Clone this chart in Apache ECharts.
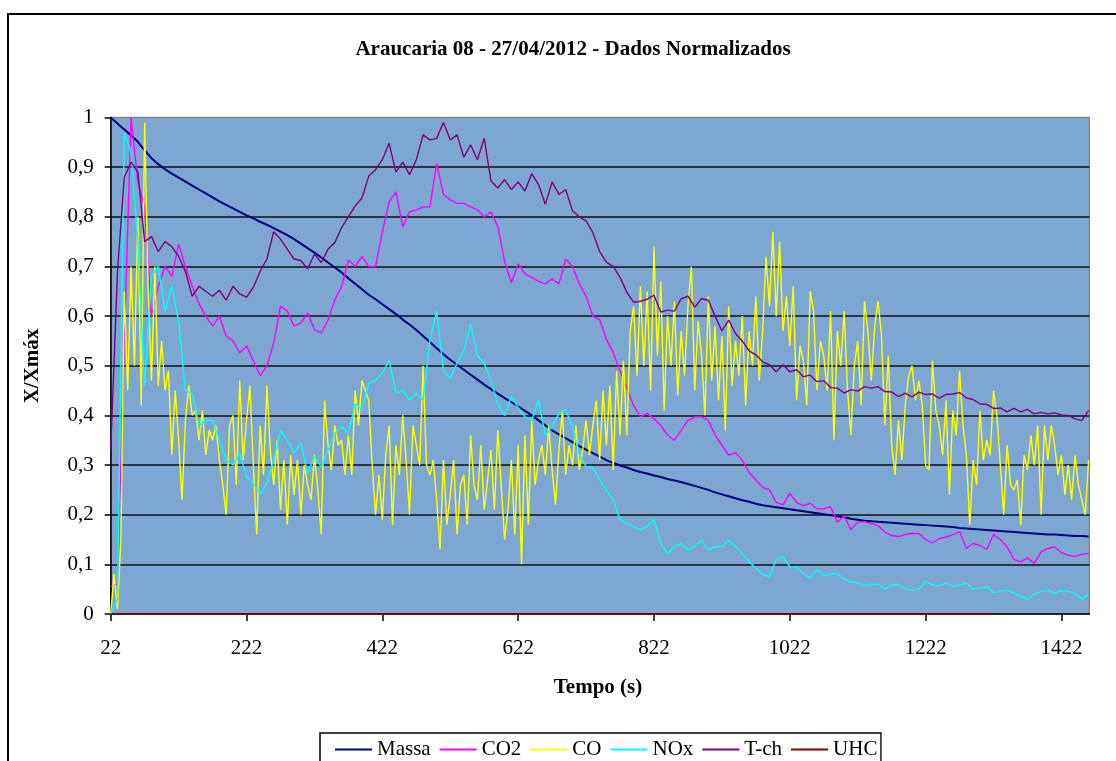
<!DOCTYPE html>
<html><head><meta charset="utf-8">
<script src="https://cdn.jsdelivr.net/npm/echarts@6/dist/echarts.min.js"></script>
<style>html,body{margin:0;padding:0;background:#fff}#chart{width:1116px;height:761px}</style>
</head><body><div id="chart"></div>
<script>
// ---- data (normalized X/Xmax) ----
const inicio = 22;            // first time stamp (s)
const passo = 10;             // sampling step for Massa, CO2, NOx, T-ch (s)
const passoCO = 5;            // sampling step for CO (s)
const rotulosX = [22, 222, 422, 622, 822, 1022, 1222, 1422];
const nomes = ['Massa', 'CO2', 'CO', 'NOx', 'T-ch', 'UHC'];

const massa = [
1.000,0.988,0.976,0.964,0.951,0.934,0.918,0.906,0.896,0.887,
0.879,0.871,0.863,0.855,0.847,0.839,0.831,0.824,0.817,0.810,
0.803,0.797,0.790,0.784,0.777,0.770,0.763,0.755,0.746,0.737,
0.728,0.718,0.708,0.698,0.688,0.676,0.665,0.654,0.643,0.634,
0.624,0.614,0.604,0.593,0.583,0.572,0.560,0.548,0.535,0.523,
0.512,0.502,0.492,0.482,0.472,0.462,0.453,0.444,0.435,0.427,
0.418,0.409,0.400,0.390,0.380,0.370,0.362,0.354,0.346,0.338,
0.331,0.324,0.317,0.310,0.304,0.299,0.295,0.290,0.286,0.283,
0.279,0.276,0.272,0.269,0.266,0.262,0.258,0.254,0.250,0.245,
0.241,0.237,0.233,0.229,0.226,0.222,0.219,0.217,0.215,0.213,
0.211,0.209,0.207,0.205,0.203,0.201,0.199,0.197,0.195,0.192,
0.190,0.188,0.187,0.186,0.185,0.184,0.183,0.182,0.181,0.180,
0.179,0.178,0.177,0.176,0.175,0.173,0.172,0.171,0.170,0.169,
0.168,0.167,0.166,0.165,0.164,0.163,0.162,0.161,0.160,0.160,
0.159,0.158,0.157,0.157,0.156];

const co2 = [
0.055,0.06,0.55,1.00,0.87,0.82,0.60,0.66,0.70,0.68,
0.745,0.70,0.66,0.625,0.60,0.58,0.60,0.56,0.55,0.526,
0.54,0.51,0.48,0.50,0.546,0.62,0.61,0.58,0.586,0.606,
0.573,0.566,0.592,0.633,0.66,0.713,0.70,0.72,0.70,0.70,
0.77,0.83,0.85,0.78,0.81,0.814,0.82,0.82,0.907,0.845,
0.834,0.827,0.827,0.82,0.814,0.80,0.81,0.78,0.71,0.667,
0.705,0.685,0.678,0.67,0.665,0.675,0.665,0.715,0.70,0.665,
0.64,0.60,0.593,0.553,0.526,0.49,0.455,0.42,0.397,0.404,
0.393,0.38,0.36,0.35,0.37,0.39,0.397,0.397,0.39,0.36,
0.34,0.32,0.325,0.31,0.285,0.27,0.255,0.25,0.225,0.22,
0.243,0.225,0.218,0.223,0.212,0.212,0.216,0.185,0.198,0.17,
0.185,0.186,0.182,0.178,0.165,0.158,0.156,0.16,0.162,0.162,
0.15,0.143,0.152,0.155,0.16,0.166,0.132,0.142,0.138,0.13,
0.16,0.15,0.135,0.11,0.105,0.113,0.102,0.125,0.132,0.135,
0.124,0.118,0.116,0.12,0.122];

const co = [
0.00,0.08,0.01,0.15,0.65,0.45,0.70,0.50,0.80,0.42,
0.99,0.66,0.47,0.70,0.46,0.55,0.45,0.49,0.32,0.45,
0.35,0.23,0.39,0.46,0.40,0.41,0.35,0.41,0.32,0.37,
0.35,0.38,0.31,0.26,0.20,0.38,0.40,0.26,0.47,0.31,
0.39,0.46,0.30,0.16,0.38,0.28,0.46,0.33,0.26,0.35,
0.21,0.31,0.18,0.32,0.24,0.31,0.20,0.30,0.26,0.23,
0.32,0.25,0.16,0.43,0.34,0.29,0.38,0.34,0.35,0.28,
0.36,0.28,0.45,0.38,0.47,0.45,0.43,0.30,0.20,0.28,
0.19,0.32,0.38,0.18,0.34,0.28,0.40,0.31,0.20,0.38,
0.34,0.30,0.50,0.30,0.28,0.31,0.23,0.13,0.31,0.18,
0.24,0.31,0.16,0.26,0.28,0.18,0.36,0.26,0.23,0.34,
0.21,0.27,0.33,0.21,0.37,0.26,0.15,0.21,0.31,0.16,
0.34,0.10,0.36,0.18,0.39,0.26,0.31,0.34,0.28,0.38,
0.29,0.22,0.33,0.41,0.28,0.34,0.30,0.38,0.29,0.33,
0.39,0.32,0.38,0.43,0.31,0.45,0.34,0.46,0.29,0.49,
0.36,0.51,0.36,0.57,0.62,0.48,0.66,0.50,0.65,0.45,
0.74,0.52,0.67,0.41,0.60,0.50,0.63,0.44,0.57,0.48,
0.62,0.70,0.45,0.59,0.52,0.40,0.64,0.47,0.58,0.43,
0.56,0.37,0.62,0.46,0.55,0.48,0.60,0.42,0.57,0.50,
0.64,0.47,0.57,0.72,0.62,0.77,0.60,0.75,0.57,0.64,
0.54,0.66,0.43,0.54,0.51,0.42,0.65,0.61,0.45,0.55,
0.52,0.45,0.61,0.35,0.57,0.50,0.61,0.45,0.36,0.50,
0.55,0.42,0.63,0.57,0.47,0.58,0.63,0.56,0.38,0.52,
0.34,0.28,0.39,0.31,0.42,0.48,0.50,0.43,0.47,0.42,
0.30,0.29,0.51,0.41,0.38,0.32,0.43,0.24,0.41,0.36,
0.49,0.38,0.32,0.18,0.31,0.26,0.41,0.31,0.35,0.32,
0.45,0.40,0.30,0.20,0.34,0.26,0.25,0.27,0.18,0.32,
0.29,0.36,0.30,0.38,0.20,0.38,0.31,0.38,0.34,0.28,
0.32,0.24,0.30,0.23,0.32,0.26,0.23,0.20,0.31];

const nox = [
0.00,0.03,0.97,0.93,0.75,0.46,0.68,0.70,0.61,0.66,
0.59,0.45,0.445,0.38,0.39,0.39,0.35,0.31,0.30,0.324,
0.276,0.263,0.243,0.263,0.31,0.37,0.35,0.324,0.344,0.283,
0.317,0.297,0.33,0.364,0.377,0.364,0.424,0.411,0.465,0.47,
0.485,0.512,0.445,0.451,0.431,0.445,0.431,0.55,0.61,0.49,
0.475,0.505,0.53,0.585,0.52,0.505,0.47,0.424,0.40,0.438,
0.415,0.397,0.39,0.431,0.36,0.377,0.404,0.411,0.377,0.32,
0.297,0.295,0.27,0.25,0.23,0.19,0.183,0.176,0.17,0.176,
0.19,0.142,0.122,0.136,0.142,0.129,0.136,0.149,0.129,0.136,
0.136,0.149,0.136,0.122,0.105,0.092,0.08,0.075,0.11,0.115,
0.095,0.095,0.082,0.072,0.09,0.078,0.08,0.082,0.07,0.065,
0.062,0.057,0.06,0.06,0.05,0.058,0.06,0.05,0.048,0.05,
0.066,0.058,0.057,0.062,0.056,0.058,0.062,0.05,0.052,0.055,
0.043,0.045,0.048,0.042,0.036,0.03,0.04,0.045,0.048,0.042,
0.047,0.046,0.041,0.03,0.041];

const tch = [
0.33,0.69,0.88,0.91,0.89,0.75,0.76,0.73,0.75,0.74,
0.72,0.69,0.64,0.66,0.65,0.64,0.652,0.632,0.66,0.645,
0.638,0.658,0.69,0.715,0.77,0.755,0.735,0.715,0.712,0.695,
0.725,0.708,0.735,0.748,0.778,0.80,0.822,0.838,0.882,0.895,
0.915,0.948,0.89,0.91,0.885,0.915,0.965,0.955,0.958,0.99,
0.955,0.965,0.92,0.945,0.915,0.958,0.872,0.858,0.875,0.855,
0.87,0.852,0.887,0.865,0.825,0.87,0.845,0.855,0.812,0.80,
0.792,0.768,0.73,0.708,0.70,0.678,0.648,0.628,0.63,0.634,
0.642,0.608,0.612,0.61,0.635,0.64,0.618,0.635,0.632,0.60,
0.57,0.592,0.565,0.55,0.53,0.522,0.508,0.502,0.488,0.502,
0.488,0.492,0.478,0.481,0.468,0.47,0.456,0.455,0.445,0.452,
0.449,0.458,0.455,0.458,0.448,0.447,0.438,0.445,0.437,0.447,
0.442,0.443,0.435,0.442,0.443,0.446,0.435,0.432,0.423,0.422,
0.414,0.415,0.407,0.414,0.407,0.412,0.403,0.406,0.403,0.405,
0.401,0.4,0.393,0.39,0.41];

const uhcTempo = [22, 1322];
const uhc = [0, 0];

// ---- chart ----
const FONT = '"Liberation Serif","Times New Roman",serif';
function pares(vals, step) { return vals.map((v, i) => [inicio + step * i, v]); }
const cores = ['#000080', '#FF00FF', '#FFFF00', '#00FFFF', '#800080', '#800000'];
const dados = [
  pares(massa, passo), pares(co2, passo), pares(co, passoCO),
  pares(nox, passo), pares(tch, passo), uhc.map((v, i) => [uhcTempo[i], v])
];

const chart = echarts.init(document.getElementById('chart'), null, { renderer: 'canvas' });
chart.setOption({
  animation: false,
  backgroundColor: '#fff',
  color: cores,
  grid: {
    left: 110.7, top: 117.5, width: 978.6, height: 496.5,
    show: true, backgroundColor: '#7DA7D2', borderColor: '#858585', borderWidth: 1.5
  },
  xAxis: {
    type: 'value', min: 22, max: 1463,
    axisLine: { show: true, onZero: false, lineStyle: { color: '#000', width: 1.5 } },
    axisTick: { show: true, customValues: rotulosX, length: 7, lineStyle: { color: '#000', width: 1.5 } },
    axisLabel: { customValues: rotulosX, formatter: v => String(v), margin: 24,
      fontFamily: FONT, fontSize: 21, color: '#000' },
    splitLine: { show: false }
  },
  yAxis: {
    type: 'value', min: 0, max: 1, interval: 0.1,
    axisLine: { show: true, lineStyle: { color: '#000', width: 1.5 } },
    axisTick: { show: true, length: 6, lineStyle: { color: '#000', width: 1.5 } },
    axisLabel: { margin: 17, fontFamily: FONT, fontSize: 21, color: '#000',
      formatter: v => (v === 0 ? '0' : v === 1 ? '1' : v.toFixed(1).replace('.', ',')) },
    splitLine: { show: true, showMinLine: false, showMaxLine: false, lineStyle: { color: '#111', width: 1.5 } }
  },
  legend: {
    data: nomes, left: 330, top: 734, icon: 'rect', itemWidth: 37, itemHeight: 2, itemGap: 9,
    textStyle: { fontFamily: FONT, fontSize: 21, color: '#000' }
  },
  graphic: [
    { type: 'rect', z: 0, shape: { x: 8, y: 14, width: 1130, height: 780 },
      style: { fill: 'none', stroke: '#000', lineWidth: 2 } },
    { type: 'rect', z: 1, shape: { x: 320, y: 733, width: 561, height: 60 },
      style: { fill: '#fff', stroke: '#000', lineWidth: 1.5 } },
    { type: 'rect', z: 100, shape: { x: 881.8, y: 734, width: 300, height: 40 },
      style: { fill: '#fff' } },
    { type: 'text', z: 10, x: 573, y: 50,
      style: { text: 'Araucaria 08 - 27/04/2012 - Dados Normalizados', font: 'bold 21px ' + FONT,
        fill: '#000', align: 'center', verticalAlign: 'middle', textAlign: 'center', textVerticalAlign: 'middle' } },
    { type: 'text', z: 10, x: 598, y: 688,
      style: { text: 'Tempo (s)', font: 'bold 21px ' + FONT,
        fill: '#000', align: 'center', verticalAlign: 'middle', textAlign: 'center', textVerticalAlign: 'middle' } },
    { type: 'text', z: 10, x: 33, y: 366, rotation: Math.PI / 2,
      style: { text: 'X/Xmáx', font: 'bold 21px ' + FONT,
        fill: '#000', align: 'center', verticalAlign: 'middle', textAlign: 'center', textVerticalAlign: 'middle' } }
  ],
  series: nomes.map((n, i) => ({
    name: n, type: 'line', data: dados[i], symbol: 'none', showSymbol: false,
    lineStyle: { width: i === 0 ? 2 : 1.4, color: cores[i] },
    itemStyle: { color: cores[i] }
  }))
});
</script></body></html>
